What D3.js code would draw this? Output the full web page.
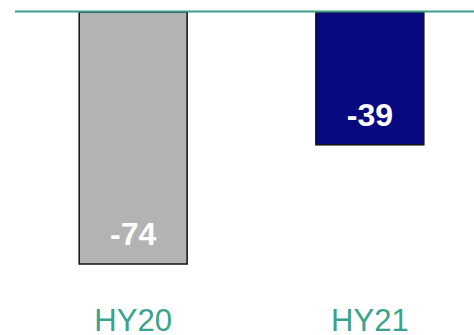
<!DOCTYPE html>
<html>
<head>
<meta charset="utf-8">
<script src="https://cdn.jsdelivr.net/npm/d3@7"></script>
<style>
  html, body { margin: 0; padding: 0; background: #fff; }
  svg { display: block; }
</style>
</head>
<body>
<script>
const categories = ["HY20", "HY21"];
const values = [-74, -39];
const labels = ["-74", "-39"];
const colors = ["#b3b3b3", "#080880"];

const W = 474, H = 335;
const svg = d3.select("body").append("svg").attr("width", W).attr("height", H);

const x = d3.scaleBand().domain(categories).range([20, 483])
  .paddingInner(0.544).paddingOuter(0.25);
const y = d3.scaleLinear().domain([0, -74]).range([12, 264]);

svg.selectAll("rect.bar").data(values).join("rect")
  .attr("class", "bar")
  .attr("x", (d, i) => x(categories[i]))
  .attr("y", y(0))
  .attr("width", x.bandwidth())
  .attr("height", d => y(d) - y(0))
  .attr("fill", (d, i) => colors[i])
  .attr("stroke", "#111")
  .attr("stroke-width", 1.5);

svg.append("line")
  .attr("x1", 15).attr("x2", W)
  .attr("y1", y(0) - 0.5).attr("y2", y(0) - 0.5)
  .attr("stroke", "#3a9e88").attr("stroke-width", 2);

svg.selectAll("text.val").data(values).join("text")
  .attr("class", "val")
  .attr("x", (d, i) => x(categories[i]) + x.bandwidth() / 2)
  .attr("y", d => y(d) - 19)
  .attr("text-anchor", "middle")
  .attr("font-family", "Liberation Sans, Arial, sans-serif")
  .attr("font-weight", "bold")
  .attr("font-size", 32)
  .attr("fill", "#fff")
  .text((d, i) => labels[i]);

svg.selectAll("text.cat").data(categories).join("text")
  .attr("class", "cat")
  .attr("x", d => x(d) + x.bandwidth() / 2)
  .attr("y", 331)
  .attr("text-anchor", "middle")
  .attr("font-family", "Liberation Sans, Arial, sans-serif")
  .attr("font-size", 31)
  .attr("fill", "#3aa38c")
  .text(d => d);
</script>
</body>
</html>
